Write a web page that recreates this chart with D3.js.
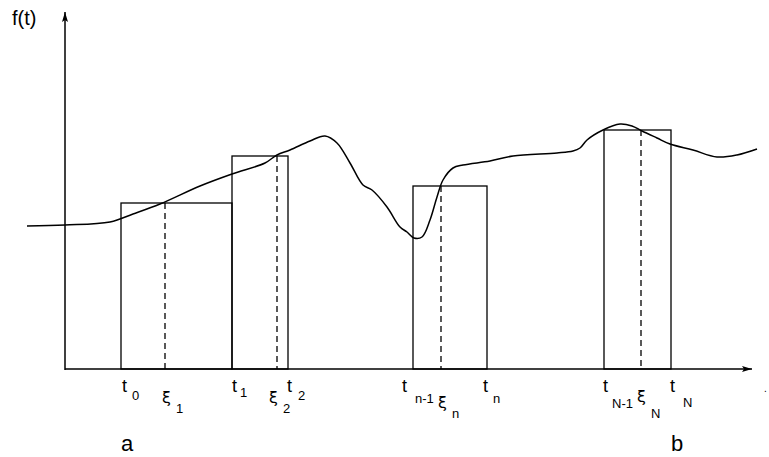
<!DOCTYPE html>
<html>
<head>
<meta charset="utf-8">
<script src="https://cdn.jsdelivr.net/npm/d3@7"></script>
<style>
  body { margin: 0; background: #fff; }
  svg { display: block; font-family: "Liberation Sans", Arial, sans-serif; }
  text { fill: #000; }
</style>
</head>
<body>
<svg></svg>
<script>
const svg = d3.select("svg");
const width = 769;
const height = 457;
svg.attr("width", width).attr("height", height);

// curve f(t) (t and f in the chart's own units)
const curveT = [-38, 0, 45, 68, 95, 135, 167, 200, 212, 225, 245, 260, 272, 285, 298, 307, 322, 335, 342, 349, 357, 365, 372, 378, 388, 398, 425, 448, 492, 508, 515, 522, 538, 555, 567, 577, 592, 605, 628, 652, 672, 692];
const curveF = [143, 144, 147, 155, 165, 183, 195, 206, 214, 219, 228, 233, 226, 206, 184, 179, 162, 142, 137, 131, 132, 149, 172, 189, 201, 204, 208, 213, 216, 218, 221, 229, 239, 245, 243, 238, 231, 225, 219, 212, 214, 220];

// partition t0 .. tN, rectangle heights f(xi)
const rectLeft = [56, 167, 348, 539];
const rectRight = [167, 223, 422, 606];
const rectHeight = [166, 213, 183, 239];
const xiT = [100, 212, 376, 576];

// tick labels
const tickT = [56, 167, 223, 348, 422, 539, 606];
const tickSub = ["0", "1", "2", "n-1", "n", "N-1", "N"];
const xiSub = ["1", "2", "n", "N"];
const endLabels = ["a", "b"];
const endT = [56, 606];

// hand placement of the labels, as in the picture
const tickNudge = [1, 0, -1, -11, -4, -1, -1];
const tickSubGap = [5, 3, 6, 8, 5, 4, 8];
const tickSubDrop = [8, 5, 8, 11, 11, 16, 15];
const xiNudge = [-3, -8, -3, -4];
const xiBase = [403, 403, 408, 402];
const xiSubDrop = [10, 10, 10, 16];

const xScale = d3.scaleLinear().domain([0, 685]).range([65, 750]);
const yScale = d3.scaleLinear().domain([0, 358]).range([369, 11]);

const g = svg.append("g");

// arrow heads
svg.append("defs").append("marker")
  .attr("id", "arrow")
  .attr("viewBox", "0 0 10 6")
  .attr("refX", 10)
  .attr("refY", 3)
  .attr("markerWidth", 11)
  .attr("markerHeight", 6)
  .attr("markerUnits", "userSpaceOnUse")
  .attr("orient", "auto")
  .append("path")
  .attr("d", "M0,0 L10,3 L0,6 L2,3 Z")
  .attr("fill", "#000");

// axes
g.append("line")
  .attr("x1", xScale(0)).attr("y1", yScale(0) + 1)
  .attr("x2", xScale(0)).attr("y2", yScale(357))
  .attr("stroke", "#000").attr("stroke-width", 1.5)
  .attr("marker-end", "url(#arrow)");

g.append("line")
  .attr("x1", xScale(0)).attr("y1", yScale(0))
  .attr("x2", xScale(687)).attr("y2", yScale(0))
  .attr("stroke", "#000").attr("stroke-width", 1.5)
  .attr("marker-end", "url(#arrow)");

// rectangles
rectLeft.forEach((l, i) => {
  g.append("rect")
    .attr("x", xScale(l))
    .attr("y", yScale(rectHeight[i]))
    .attr("width", xScale(rectRight[i]) - xScale(l))
    .attr("height", yScale(0) - yScale(rectHeight[i]))
    .attr("fill", "none")
    .attr("stroke", "#000")
    .attr("stroke-width", 1.3);
});

// dashed lines at xi
xiT.forEach((t, i) => {
  g.append("line")
    .attr("x1", xScale(t)).attr("x2", xScale(t))
    .attr("y1", yScale(rectHeight[i])).attr("y2", yScale(0))
    .attr("stroke", "#000")
    .attr("stroke-width", 1.3)
    .attr("stroke-dasharray", "6,4");
});

// the curve
const line = d3.line()
  .x((d, i) => xScale(curveT[i]))
  .y((d, i) => yScale(curveF[i]))
  .curve(d3.curveCatmullRom.alpha(0.5));

g.append("path")
  .attr("d", line(curveT))
  .attr("fill", "none")
  .attr("stroke", "#000")
  .attr("stroke-width", 1.5);

// labels
svg.append("text")
  .attr("x", 12).attr("y", 25)
  .attr("font-size", 20)
  .text("f(t)");

tickT.forEach((t, i) => {
  const tx = g.append("text")
    .attr("x", xScale(t) + tickNudge[i])
    .attr("y", 392)
    .attr("font-size", 18);
  tx.append("tspan").text("t");
  tx.append("tspan")
    .attr("dx", tickSubGap[i])
    .attr("dy", tickSubDrop[i])
    .attr("font-size", 13)
    .text(tickSub[i]);
});

xiT.forEach((t, i) => {
  const tx = g.append("text")
    .attr("x", xScale(t) + xiNudge[i])
    .attr("y", xiBase[i])
    .attr("font-size", 16)
    .attr("font-family", "DejaVu Sans");
  tx.append("tspan").text("ξ");
  tx.append("tspan")
    .attr("dx", 5)
    .attr("dy", xiSubDrop[i])
    .attr("font-size", 13)
    .attr("font-family", "Liberation Sans")
    .text(xiSub[i]);
});

endLabels.forEach((s, i) => {
  g.append("text")
    .attr("x", xScale(endT[i]))
    .attr("y", 451)
    .attr("font-size", 22)
    .text(s);
});

// stray dot at the right edge
svg.append("text")
  .attr("x", 764).attr("y", 392)
  .attr("font-size", 10)
  .text(".");
</script>
</body>
</html>
